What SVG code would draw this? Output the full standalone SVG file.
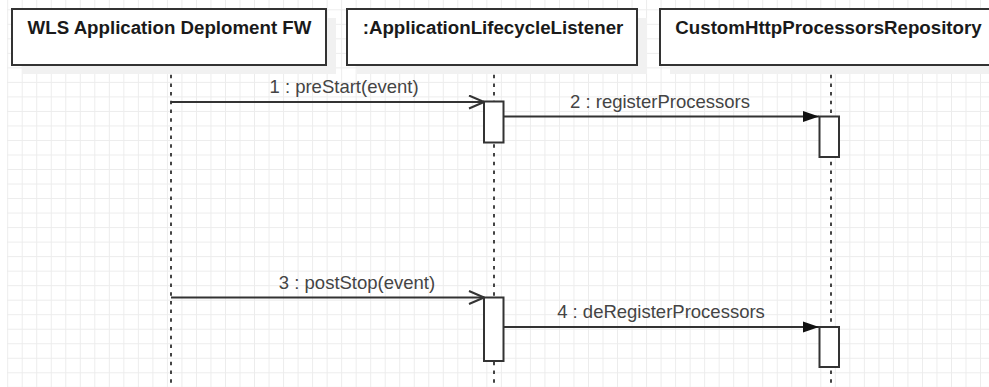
<svg xmlns="http://www.w3.org/2000/svg" width="989" height="387" viewBox="0 0 989 387">
  <style>
    .hdr { fill: #ffffff; stroke: #333333; stroke-width: 2; }
    .shadow { fill: #f1f1f1; }
    .htxt { font-family: "Liberation Sans", Arial, sans-serif; font-weight: bold; font-size: 18.7px; fill: #1a1a1a; text-anchor: middle; }
    .ltxt { font-family: "Liberation Sans", Arial, sans-serif; font-size: 18.5px; fill: #444444; text-anchor: middle; }
    .life { stroke: #444444; stroke-width: 2; stroke-dasharray: 3.5 5.2; fill: none; }
    .act { fill: #ffffff; stroke: #333333; stroke-width: 2; }
    .msg { stroke: #333333; stroke-width: 2; fill: none; }
  </style>
  <defs>
    <pattern id="grid" patternUnits="userSpaceOnUse" x="7.2" y="9.3" width="14.52" height="14.52">
      <rect x="0" y="0" width="1" height="14.52" fill="#ececec"/>
      <rect x="0" y="0" width="14.52" height="1" fill="#ececec"/>
    </pattern>
    <marker id="open" markerUnits="userSpaceOnUse" viewBox="0 0 17 15" refX="16" refY="7.5" markerWidth="17" markerHeight="15" orient="auto">
      <path d="M1,1 L16,7.5 L1,14" fill="none" stroke="#333333" stroke-width="2"/>
    </marker>
    <marker id="filled" markerUnits="userSpaceOnUse" viewBox="0 0 16 12" refX="16" refY="6" markerWidth="16" markerHeight="12" orient="auto">
      <path d="M0,0.5 L16,6 L0,11.5 z" fill="#111111"/>
    </marker>
  </defs>

  <rect x="0" y="0" width="989" height="387" fill="#ffffff"/>
  <rect x="7" y="0" width="982" height="387" fill="url(#grid)"/>

  <g id="lifelines">
    <line class="life" x1="171" y1="66" x2="171" y2="387"/>
    <line class="life" x1="494" y1="66" x2="494" y2="387"/>
    <line class="life" x1="831" y1="66" x2="831" y2="387"/>
  </g>

  <g id="node-wls">
    <rect class="shadow" x="22" y="18" width="314" height="56"/>
    <rect class="hdr" x="12" y="9" width="314" height="56"/>
    <text class="htxt" x="169.5" y="33.5">WLS Application Deploment FW</text>
  </g>

  <g id="node-listener">
    <rect class="shadow" x="357" y="18" width="290" height="56"/>
    <rect class="hdr" x="347" y="9" width="290" height="56"/>
    <text class="htxt" x="493" y="33.5">:ApplicationLifecycleListener</text>
  </g>

  <g id="node-repo">
    <rect class="shadow" x="670" y="18" width="338" height="56"/>
    <rect class="hdr" x="660" y="9" width="338" height="56"/>
    <text class="htxt" x="828.5" y="33.5">CustomHttpProcessorsRepository</text>
  </g>

  <g id="connectors">
    <line class="msg" x1="171" y1="102" x2="484" y2="102" marker-end="url(#open)"/>
    <text class="ltxt" x="344" y="93">1 : preStart(event)</text>

    <line class="msg" x1="503" y1="116.5" x2="819" y2="116.5" marker-end="url(#filled)"/>
    <text class="ltxt" x="660" y="107.5">2 : registerProcessors</text>

    <line class="msg" x1="171" y1="297.5" x2="484" y2="297.5" marker-end="url(#open)"/>
    <text class="ltxt" x="357" y="289">3 : postStop(event)</text>

    <line class="msg" x1="503" y1="327" x2="819" y2="327" marker-end="url(#filled)"/>
    <text class="ltxt" x="661" y="318">4 : deRegisterProcessors</text>
  </g>

  <g id="activations">
    <rect class="act" x="484" y="101.5" width="19.5" height="41"/>
    <rect class="act" x="819.5" y="116.5" width="19.5" height="40.5"/>
    <rect class="act" x="484" y="297.5" width="19.5" height="63.5"/>
    <rect class="act" x="819.5" y="327" width="19.5" height="40"/>
  </g>
</svg>
